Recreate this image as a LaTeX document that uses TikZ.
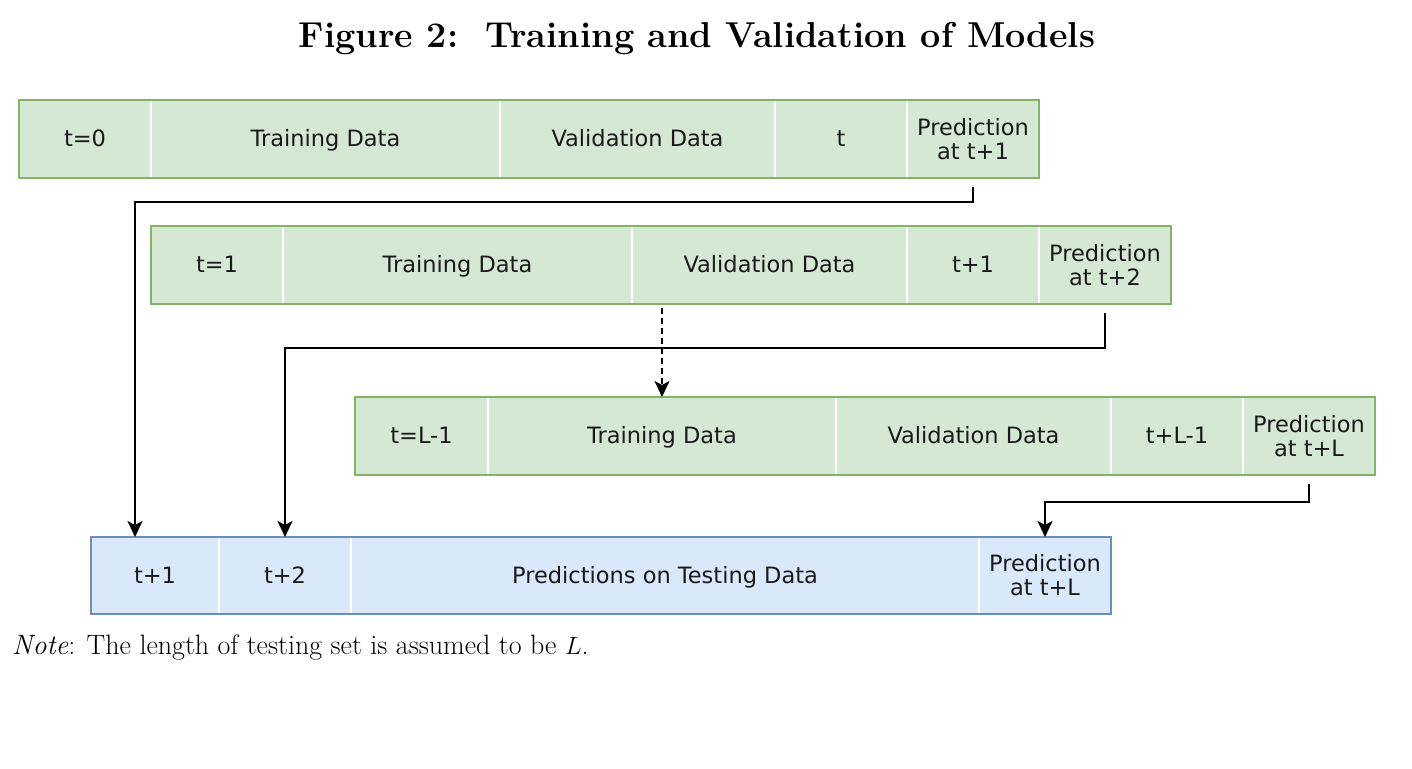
\documentclass[tikz,border=0pt]{standalone}
\usepackage{fontspec}
\newfontfamily\boxfont{DejaVu Sans}
\usetikzlibrary{arrows.meta}
\definecolor{gfill}{HTML}{D5E8D4}
\definecolor{gline}{HTML}{82B366}
\definecolor{bfill}{HTML}{DAE8FC}
\definecolor{bline}{HTML}{6C8EBF}
\begin{document}
\begin{tikzpicture}[x=1pt,y=-1pt,
  cell/.style={anchor=north west, inner sep=0pt, outer sep=0pt, minimum height=78pt,
    font=\boxfont\fontsize{22.5}{24}\selectfont, align=center, text=black!90},
  one/.style={text height=18pt, text depth=3pt},
  gcell/.style={cell, fill=gfill},
  bcell/.style={cell, fill=bfill, minimum height=77pt},
  divider/.style={draw=white, line width=1.5pt},
  gframe/.style={draw=gline, line width=1.5pt},
  bframe/.style={draw=bline, line width=1.5pt},
  conn/.style={draw=black, line width=2pt, -{Stealth[length=16pt,width=15pt,inset=4pt]}},
  dashconn/.style={conn, dash pattern=on 6pt off 4pt}
]
\useasboundingbox (0,0) rectangle (1412,768);
\fill[white] (0,0) rectangle (1412,768);

% title
\node[anchor=base, font=\bfseries\fontsize{36}{40}\selectfont] (title) at (697,48)
  {Figure 2:\ \ Training and Validation of Models};

% row 1
\node[gcell, one, minimum width=132pt] (a1) at (19,100) {t=0};
\node[gcell, one, minimum width=349pt] (a2) at (a1.north east) {Training Data};
\node[gcell, one, minimum width=275pt] (a3) at (a2.north east) {Validation Data};
\node[gcell, one, minimum width=132pt] (a4) at (a3.north east) {t};
\node[gcell, minimum width=132pt] (a5) at (a4.north east) {Prediction\\at t+1};
\foreach \n in {a1,a2,a3,a4} \draw[divider] (\n.north east) -- (\n.south east);
\draw[gframe] (a1.north west) rectangle (a5.south east);

% row 2
\node[gcell, one, minimum width=132pt] (b1) at (151,226) {t=1};
\node[gcell, one, minimum width=349pt] (b2) at (b1.north east) {Training Data};
\node[gcell, one, minimum width=275pt] (b3) at (b2.north east) {Validation Data};
\node[gcell, one, minimum width=132pt] (b4) at (b3.north east) {t+1};
\node[gcell, minimum width=132pt] (b5) at (b4.north east) {Prediction\\at t+2};
\foreach \n in {b1,b2,b3,b4} \draw[divider] (\n.north east) -- (\n.south east);
\draw[gframe] (b1.north west) rectangle (b5.south east);

% row 3
\node[gcell, one, minimum width=133pt] (c1) at (355,397) {t=L-1};
\node[gcell, one, minimum width=348pt] (c2) at (c1.north east) {Training Data};
\node[gcell, one, minimum width=275pt] (c3) at (c2.north east) {Validation Data};
\node[gcell, one, minimum width=132pt] (c4) at (c3.north east) {t+L-1};
\node[gcell, minimum width=132pt] (c5) at (c4.north east) {Prediction\\at t+L};
\foreach \n in {c1,c2,c3,c4} \draw[divider] (\n.north east) -- (\n.south east);
\draw[gframe] (c1.north west) rectangle (c5.south east);

% testing row
\node[bcell, one, minimum width=128pt] (d1) at (91,537) {t+1};
\node[bcell, one, minimum width=132pt] (d2) at (d1.north east) {t+2};
\node[bcell, one, minimum width=628pt] (d3) at (d2.north east) {Predictions on Testing Data};
\node[bcell, minimum width=132pt] (d4) at (d3.north east) {Prediction\\at t+L};
\foreach \n in {d1,d2,d3} \draw[divider] (\n.north east) -- (\n.south east);
\draw[bframe] (d1.north west) rectangle (d4.south east);

% connectors
\draw[conn] ([yshift=-9pt]a5.south) -- ++(0,15) -| ([xshift=-20pt]d1.north);
\draw[conn] ([yshift=-9pt]b5.south) -- ++(0,35) -| (d2.north);
\draw[dashconn] ([yshift=-4pt]b2.south -| c2.north) -- (c2.north);
\draw[conn] ([yshift=-9pt]c5.south) -- ++(0,18) -| (d4.north);

% note
\node[anchor=base west, font=\fontsize{28}{32}\selectfont, inner sep=0pt] (note) at (12,654)
  {\textit{Note}: The length of testing set is assumed to be $L$.};
\end{tikzpicture}
\end{document}
